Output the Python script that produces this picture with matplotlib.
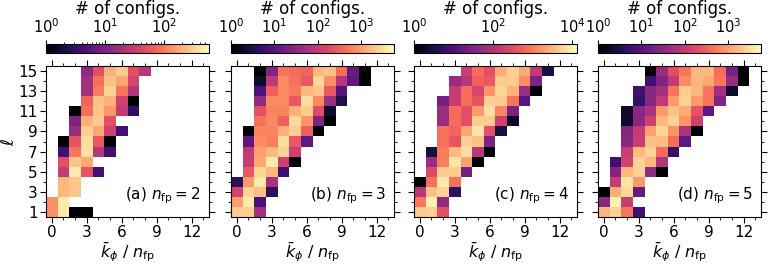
import numpy as np
import matplotlib
matplotlib.use("Agg")
import matplotlib.pyplot as plt
from matplotlib.colors import LogNorm
from matplotlib.ticker import MultipleLocator, LogLocator, NullLocator

# first k column of each row, ell = 1..15
kstart_a = [0, 0, 1, 1, 1, 1, 1, 1, 2, 2, 2, 3, 3, 3, 3]
counts_a = [
    [130, 430, 1, 1],
    [130, 430],
    [220, 270],
    [220, 260],
    [30, 450, 55, 4],
    [50, 260, 180],
    [4, 90, 380, 25, 4],
    [1, 55, 380, 60, 1],
    [15, 300, 180, 35, 4],
    [10, 200, 280, 50],
    [1, 85, 260, 140, 30, 3],
    [70, 250, 200, 35, 1],
    [18, 100, 320, 90, 22],
    [18, 85, 250, 180, 40],
    [13, 50, 200, 280, 50, 25],
]

kstart_b = [0, 0, 0, 0, 1, 1, 1, 1, 1, 2, 2, 2, 2, 2, 2]
counts_b = [
    [2300, 2300, 50],
    [1000, 3800, 7],
    [140, 2600, 1700, 4],
    [4, 900, 3800, 60],
    [250, 2600, 1500, 6],
    [100, 1100, 4000, 130, 1],
    [90, 1000, 1600, 2500, 120],
    [12, 700, 550, 3200, 250, 12],
    [1, 600, 600, 1300, 2300, 300, 1],
    [420, 650, 300, 2800, 800, 25, 1],
    [220, 600, 600, 1300, 2200, 180, 2],
    [35, 650, 650, 250, 3000, 650, 45, 3],
    [8, 300, 650, 500, 1600, 2000, 250, 9],
    [2, 90, 650, 420, 250, 2800, 750, 80, 12, 1],
    [1, 25, 450, 380, 350, 1500, 1900, 400, 14, 1],
]

kstart_c = [0, 0, 0, 0, 1, 1, 1, 2, 2, 2, 2, 2, 3, 3, 4]
counts_c = [
    [4500, 5000, 350],
    [900, 10000, 50],
    [120, 3800, 5500, 5],
    [1, 800, 8500, 800],
    [300, 4500, 4500, 25],
    [60, 1000, 8000, 2000, 1],
    [3, 1000, 3300, 7000, 120, 1],
    [800, 400, 5000, 3800, 30],
    [800, 600, 2200, 8000, 350, 3],
    [60, 700, 350, 4800, 4800, 200, 2],
    [60, 700, 350, 1700, 7000, 1200, 30],
    [25, 170, 700, 400, 5000, 4500, 800, 12],
    [170, 700, 250, 1500, 5500, 2800, 60, 1],
    [60, 120, 550, 450, 4500, 4500, 1300, 30],
    [180, 700, 350, 2500, 5000, 2500, 150, 3],
]

kstart_d = [0, 0, 0, 1, 1, 1, 2, 2, 2, 2, 2, 3, 3, 4, 4]
counts_d = [
    [1500, 2500, 450, 6],
    [30, 4500, 110],
    [1, 1300, 2700, 14],
    [100, 3500, 900],
    [25, 1500, 2500, 35, 1],
    [6, 130, 2500, 1500, 70],
    [110, 1600, 2500, 400, 5],
    [30, 110, 1800, 1700, 400, 12],
    [25, 100, 1000, 2600, 800, 60, 1],
    [2, 30, 120, 1600, 2500, 800, 120],
    [2, 30, 60, 900, 1800, 1200, 220, 12],
    [5, 30, 90, 900, 2500, 900, 450, 25],
    [6, 30, 50, 450, 2200, 1500, 450, 50, 2],
    [6, 25, 100, 700, 1500, 1200, 450, 40, 1],
    [1, 40, 200, 450, 1500, 1600, 400, 20, 1],
]

n_fp = [2, 3, 4, 5]
panel_tags = ["(a)", "(b)", "(c)", "(d)"]
cbar_max = [575, 5600, 13000, 5600]
ell = np.arange(1, 16)
kbar = np.arange(0, 14)
ell_ticks = [1, 3, 5, 7, 9, 11, 13, 15]
kbar_ticks = [0, 3, 6, 9, 12]


def build_grid(kstart, counts):
    grid = np.full((len(ell), len(kbar)), np.nan)
    for i, (k0, row) in enumerate(zip(kstart, counts)):
        grid[i, k0:k0 + len(row)] = row
    return grid


panels = [(kstart_a, counts_a), (kstart_b, counts_b),
          (kstart_c, counts_c), (kstart_d, counts_d)]

fig = plt.figure(figsize=(7.77, 2.64), dpi=100)
lefts = [0.0592, 0.2973, 0.5328, 0.7696]
width = 0.2098

for i, (kstart, counts) in enumerate(panels):
    grid = build_grid(kstart, counts)
    ax = fig.add_axes([lefts[i], 0.178, width, 0.572])
    cax = fig.add_axes([lefts[i], 0.799, width, 0.034])
    norm = LogNorm(vmin=1, vmax=cbar_max[i])
    mesh = ax.pcolormesh(np.arange(-0.5, 14.5), np.arange(0.5, 16.5),
                         np.ma.masked_invalid(grid), cmap="magma", norm=norm)
    ax.set_xlim(-0.5, 13.5)
    ax.set_ylim(0.5, 15.5)
    ax.set_xticks(kbar_ticks)
    ax.set_yticks(ell_ticks)
    ax.xaxis.set_minor_locator(MultipleLocator(1))
    ax.yaxis.set_minor_locator(MultipleLocator(1))
    ax.tick_params(which="both", top=True, right=True, labelsize=11)
    ax.tick_params(which="major", length=4, pad=2)
    ax.tick_params(which="minor", length=2)
    if i == 0:
        ax.set_ylabel(r"$\ell$", fontsize=12, labelpad=0)
    else:
        ax.tick_params(labelleft=False)
    ax.set_xlabel(r"$\bar{k}_\phi$ / $n_{\rm fp}$", fontsize=11.5, labelpad=0)
    ax.text(0.95, 0.07, panel_tags[i] + r" $n_{\rm fp} = %d$" % n_fp[i],
            transform=ax.transAxes, ha="right", va="bottom", fontsize=11)

    cb = fig.colorbar(mesh, cax=cax, orientation="horizontal")
    cax.xaxis.set_ticks_position("top")
    cax.xaxis.set_label_position("top")
    if i == 2:
        cb.set_ticks([1, 100, 10000])
        cax.xaxis.set_minor_locator(NullLocator())
    else:
        cax.xaxis.set_major_locator(LogLocator(base=10, numticks=10))
    cax.tick_params(labelsize=10.5, pad=3)
    cax.tick_params(which="major", length=3)
    cax.tick_params(which="minor", length=1.5)
    cb.set_label("# of configs.", fontsize=12, labelpad=2)

fig.savefig("out.png", dpi=100)
